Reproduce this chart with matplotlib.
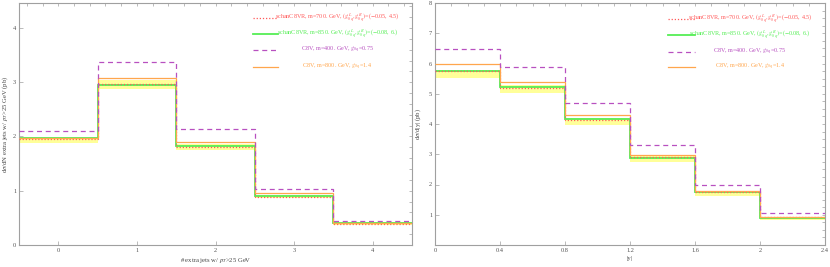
import matplotlib
matplotlib.use("Agg")
import matplotlib.pyplot as plt
import numpy as np

plt.rcParams['font.family'] = ['Liberation Serif', 'DejaVu Serif']
plt.rcParams['mathtext.fontset'] = 'stix'

# ---- data: left panel (number of extra jets) ----
nj_edges = [-0.5, 0.5, 1.5, 2.5, 3.5, 4.5]
nj_c8v_400 = [2.11, 3.37, 2.14, 1.04, 0.44]
nj_c8v_800 = [1.97, 3.07, 1.90, 0.95, 0.41]
nj_schan_700 = [1.95, 2.97, 1.81, 0.89, 0.39]
nj_schan_850 = [1.97, 2.95, 1.82, 0.90, 0.40]
nj_band_hi = [1.98, 3.04, 1.86, 0.92, 0.42]
nj_band_lo = [1.88, 2.87, 1.75, 0.86, 0.37]

# ---- data: right panel (|y|) ----
y_edges = [0.0, 0.4, 0.8, 1.2, 1.6, 2.0, 2.4]
y_c8v_400 = [6.49, 5.89, 4.68, 3.31, 1.98, 1.05]
y_c8v_800 = [5.99, 5.40, 4.30, 2.96, 1.80, 0.93]
y_schan_700 = [5.76, 5.20, 4.14, 2.91, 1.76, 0.92]
y_schan_850 = [5.74, 5.23, 4.18, 2.87, 1.74, 0.90]
y_band_hi = [5.79, 5.28, 4.20, 2.94, 1.80, 0.94]
y_band_lo = [5.53, 5.03, 3.98, 2.75, 1.62, 0.83]

labels = [r"schanC8VR, m=700. GeV, $(g^L_{8q},g^R_{8q})$=($-$0.05, 4.5)",
          r"schanC8VR, m=850. GeV, $(g^L_{8q},g^R_{8q})$=($-$0.08, 6.)",
          r"C8V, m=400. GeV, $g_{8q}$=0.75",
          r"C8V, m=800. GeV, $g_{8q}$=1.4"]

C_RED = '#ff5a5a'
C_GREEN = '#55ee55'
C_PURPLE = '#b850c0'
C_ORANGE = '#ffa64d'
C_BAND = '#ffff99'
C_FRAME = '#a0a0a0'

styles = [dict(color=C_RED, ls=(0, (1, 1.5)), lw=0.9),
          dict(color=C_GREEN, ls='-', lw=1.3),
          dict(color=C_PURPLE, ls=(0, (4, 3)), lw=0.9),
          dict(color=C_ORANGE, ls='-', lw=0.9)]

fig = plt.figure(figsize=(8.3, 2.67), dpi=100)
H = 267.0
W = 830.0
axL = fig.add_axes([19 / W, 22 / H, 393 / W, 242 / H])
axR = fig.add_axes([435 / W, 22 / H, 390 / W, 242 / H])


def draw(ax, edges, s700, s850, c400, c800, lo, hi):
    ax.stairs(hi, edges, baseline=lo, fill=True, color=C_BAND, lw=0, zorder=1)
    ax.stairs(s850, edges, baseline=None, zorder=2, **styles[1])
    ax.stairs(s700, edges, baseline=None, zorder=3, **styles[0])
    ax.stairs(c800, edges, baseline=None, zorder=4, **styles[3])
    ax.stairs(c400, edges, baseline=None, zorder=5, **styles[2])


def legend(ax, hx0, hx1, tx, rows):
    for st, lab, yy in zip(styles, labels, rows):
        ax.plot([hx0, hx1], [yy, yy], transform=ax.transAxes, **st)
        ax.text(tx, yy, lab, transform=ax.transAxes, color=st['color'],
                fontsize=4.4, ha='center', va='center')


def frame(ax, xmaj, ymaj, xmin, ymin):
    for sp in ax.spines.values():
        sp.set_color(C_FRAME)
        sp.set_linewidth(0.8)
    ax.set_xticks(xmaj)
    ax.set_yticks(ymaj)
    ax.tick_params(axis='both', which='major', direction='in', length=3,
                   width=0.5, color=C_FRAME, labelsize=4.6, labelcolor='#555555', pad=2)
    axt = ax.secondary_xaxis('top')
    axt.set_xticks(xmin)
    axt.tick_params(direction='in', length=2, width=0.5, color=C_FRAME, labeltop=False)
    axt.spines['top'].set_visible(False)
    axr = ax.secondary_yaxis('right')
    axr.set_yticks(ymin)
    axr.tick_params(direction='in', length=2, width=0.5, color=C_FRAME, labelright=False)
    axr.spines['right'].set_visible(False)


draw(axL, nj_edges, nj_schan_700, nj_schan_850, nj_c8v_400, nj_c8v_800, nj_band_lo, nj_band_hi)
axL.set_xlim(-0.5, 4.5)
axL.set_ylim(0, 4.46)
frame(axL, [0, 1, 2, 3, 4], [0, 1, 2, 3, 4],
      np.arange(-0.4, 4.5, 0.2), np.arange(0.2, 4.46, 0.2))
axL.set_xlabel(r"# extra jets w/ $p_T$>25 GeV", fontsize=4.8, color='#444444', labelpad=2)
axL.set_ylabel(r"d$\sigma$/dN extra jets w/ $p_T$>25 GeV (pb)", fontsize=4.8,
               color='#444444', labelpad=2)
legend(axL, 0.595, 0.66, 0.81, [0.940, 0.872, 0.806, 0.736])

draw(axR, y_edges, y_schan_700, y_schan_850, y_c8v_400, y_c8v_800, y_band_lo, y_band_hi)
axR.set_xlim(0, 2.4)
axR.set_ylim(0, 8)
frame(axR, [0, 0.4, 0.8, 1.2, 1.6, 2.0, 2.4], [1, 2, 3, 4, 5, 6, 7, 8],
      np.arange(0.1, 2.4, 0.1), np.arange(0.25, 8, 0.25))
axR.set_xticklabels(['0', '0.4', '0.8', '1.2', '1.6', '2', '2.4'])
axR.set_xlabel(r"|y|", fontsize=4.8, color='#444444', labelpad=2)
axR.set_ylabel(r"d$\sigma$/d|y| (pb)", fontsize=4.8, color='#444444', labelpad=4)
legend(axR, 0.597, 0.667, 0.808, [0.934, 0.868, 0.797, 0.735])

fig.savefig('out.png', dpi=100)
